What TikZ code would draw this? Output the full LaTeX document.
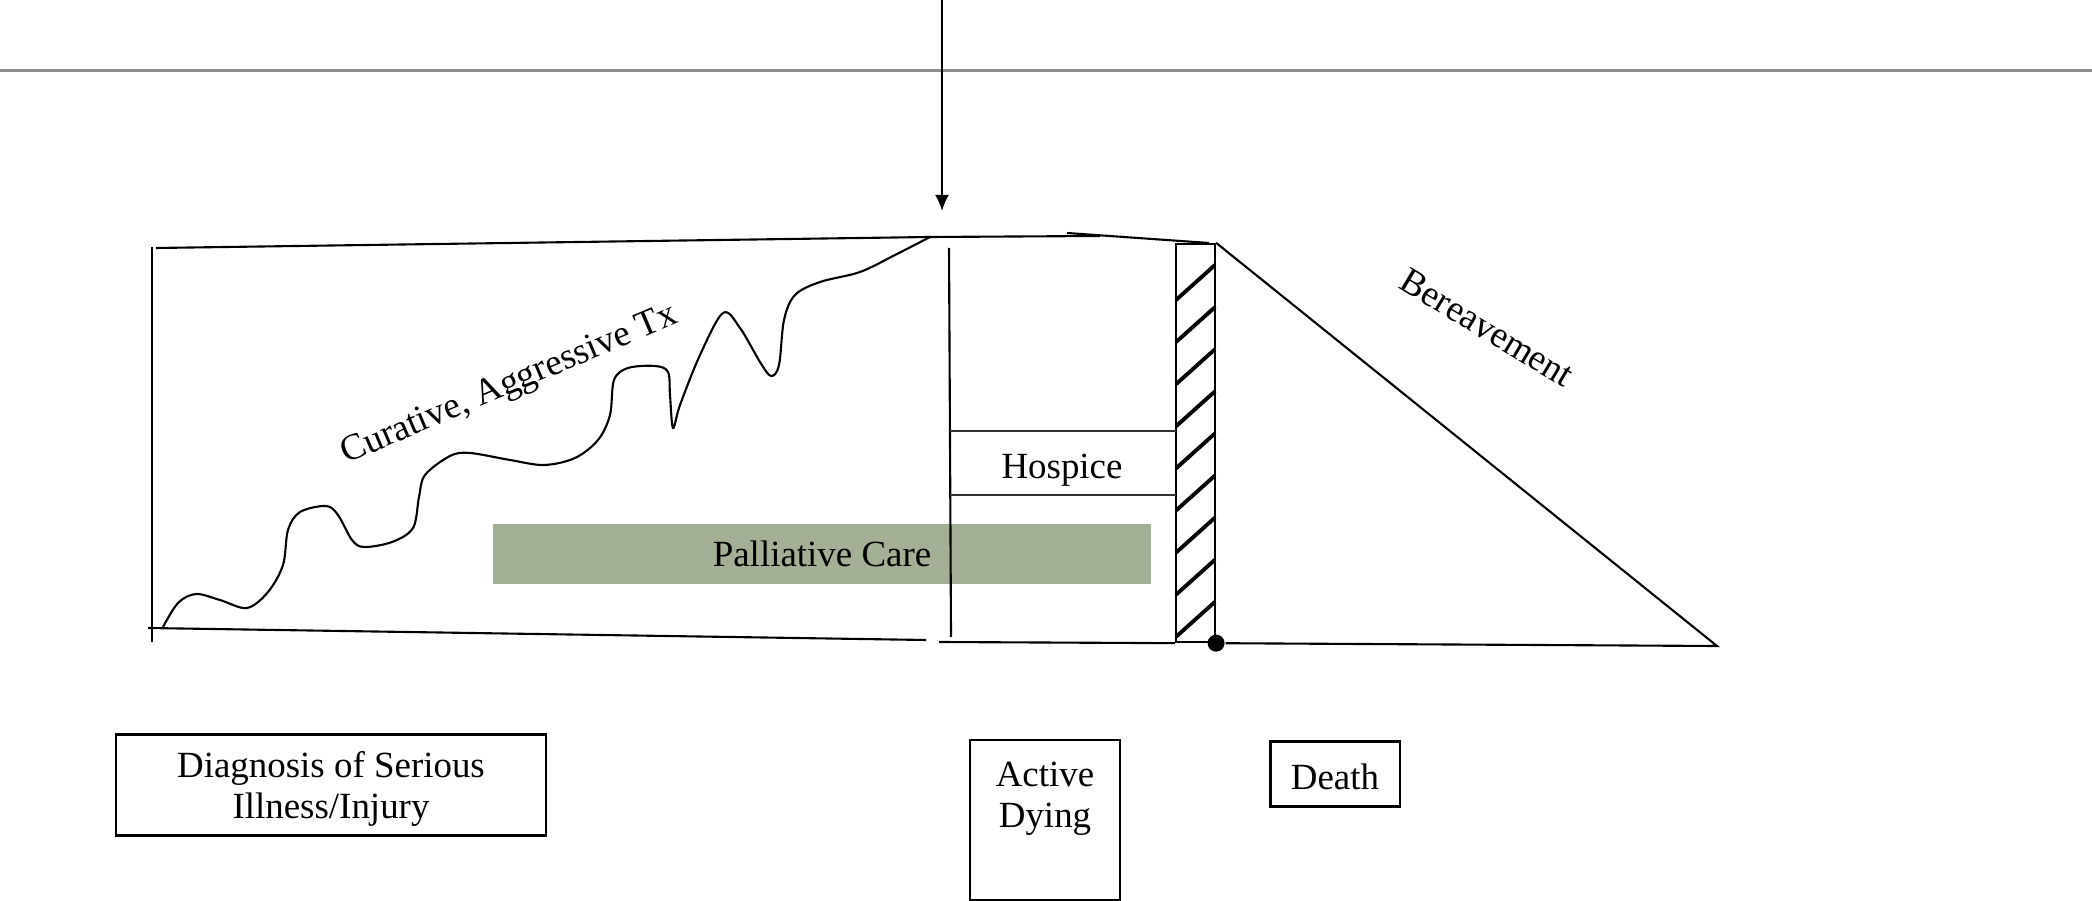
\documentclass[tikz,border=0pt]{standalone}
\usepackage{fontspec}
\setmainfont{Liberation Serif}
\usetikzlibrary{calc,arrows.meta}
\definecolor{palgreen}{RGB}{163,176,149}

\begin{document}
\begin{tikzpicture}[x=0.01cm, y=-0.01cm, line width=0.6pt,
  every node/.style={font=\fontsize{10.5}{11.6}\selectfont, inner sep=0pt},
  box/.style={draw, align=center}]

  \useasboundingbox (0,0) rectangle (2092,901);

  \draw[black!45, line width=0.7pt] (0,70.5) -- (2092,70.5);

  \coordinate (top) at (942,0);
  \coordinate (tip) at (942,211);
  \draw[-{Latex[length=4.6pt,width=4pt]}] (top) -- (tip);

  % curative frame
  \coordinate (a) at (152,247);
  \coordinate (b) at (152,642);
  \coordinate (c) at (156,248);
  \coordinate (d) at (930,237);
  \coordinate (e) at (1100,236);
  \coordinate (f) at (148,628);
  \coordinate (g) at (926,640);
  \coordinate (h) at (1067,233);
  \coordinate (i) at (1209,243);
  \draw (a) -- (b);
  \draw (c) -- (d) -- (e);
  \draw (h) -- (i);
  \draw (f) -- (g);

  \draw plot[smooth, tension=0.55] coordinates {
    (163,627) (178,603) (196,594) (220,600) (247,608) (268,592) (283,565)
    (288,530) (300,512) (326,506) (338,515) (352,540) (364,547) (392,542)
    (413,528) (419,497) (425,475) (450,456) (470,453) (510,460) (544,465)
    (575,458) (598,440) (610,415) (614,380) (628,368) (655,366) (668,372)
    (670,395) (673,428) (680,405) (700,355) (723,313) (740,328) (760,362)
    (771,376) (779,365) (784,320) (795,295) (820,282) (860,272) (895,255)
    (930,237)};

  \node[rotate=23, anchor=base] (cur) at (513,393) {Curative, Aggressive Tx};

  \node[fill=palgreen, minimum width=6.57cm, minimum height=0.59cm] (pal) at (822,554) {Palliative Care};

  % hospice column
  \coordinate (j) at (949,248);
  \coordinate (k) at (951,637);
  \coordinate (l) at (939,642);
  \draw (j) -- (k);
  \node[draw, minimum width=0.39cm, minimum height=3.98cm] (bar) at (1195.5,443) {};
  \draw (l) -- (bar.south west);
  \draw[black!80, line width=0.45pt] (950,431) -- (1176,431);
  \draw[black!80, line width=0.45pt] (950,495) -- (1176,495);
  \node (hosp) at (1062,470) {Hospice};
  \foreach \k in {0,...,8}
    \draw[line width=1.1pt] (1176,{300+42.1*\k}) -- (1215,{265+42.1*\k});

  \node[circle, fill, minimum size=0.17cm] (dot) at (bar.south east) {};

  % bereavement
  \coordinate (m) at (1717,646);
  \draw (dot) -- (m) -- (bar.north east);
  \node[rotate=-31, anchor=base] (ber) at (1481,338) {Bereavement};

  \node[box, minimum width=4.30cm, minimum height=1.01cm] (diag) at (331,785) {};
  \node[align=center] (diagtext) at (331,789) {Diagnosis of Serious\\Illness/Injury};
  \node[box, minimum width=1.50cm, minimum height=1.60cm] (dying) at (1045,820) {};
  \node[anchor=north, align=center] (dytext) at ($(dying.north)+(0,22)$) {Active\\ Dying};
  \node[box, minimum width=1.29cm, minimum height=0.65cm] (death) at (1335,774) {};
  \node (deathtext) at (1335,777) {Death};

\end{tikzpicture}
\end{document}
